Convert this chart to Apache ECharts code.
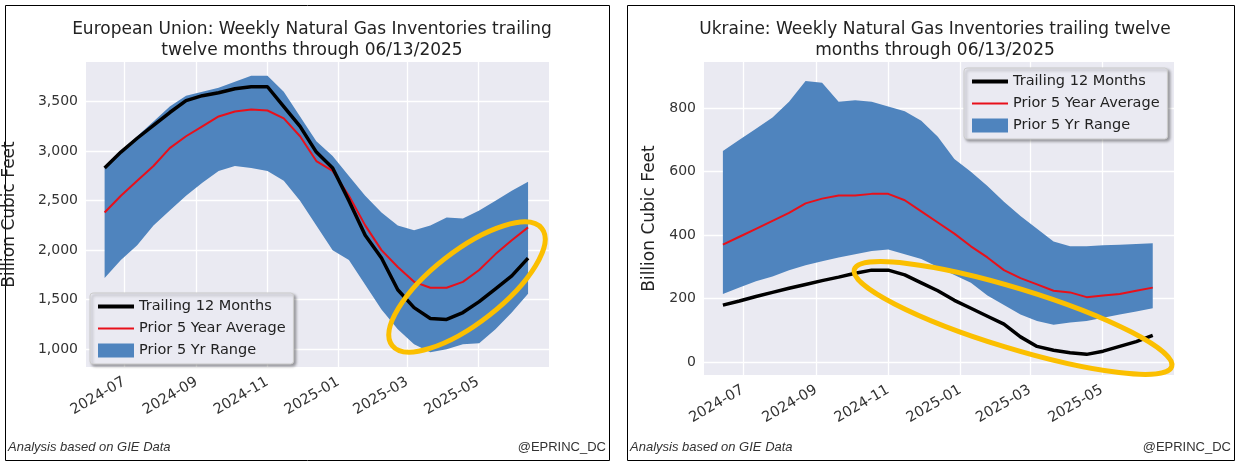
<!DOCTYPE html>
<html>
<head>
<meta charset="utf-8">
<script src="https://cdn.jsdelivr.net/npm/echarts@6/dist/echarts.min.js"></script>
<style>
  html, body { margin: 0; padding: 0; background: #fff; }
  #chart { width: 1240px; height: 467px; }
</style>
</head>
<body>
<div id="chart"></div>
<script>
// biweekly dates, 2024-06-14 .. 2025-06-13
const dates = [
  '2024-06-14', '2024-06-28', '2024-07-12', '2024-07-26', '2024-08-09', '2024-08-23',
  '2024-09-06', '2024-09-20', '2024-10-04', '2024-10-18', '2024-11-01', '2024-11-15',
  '2024-11-29', '2024-12-13', '2024-12-27', '2025-01-10', '2025-01-24', '2025-02-07',
  '2025-02-21', '2025-03-07', '2025-03-21', '2025-04-04', '2025-04-18', '2025-05-02',
  '2025-05-16', '2025-05-30', '2025-06-13'
]
const monthTicks = ['2024-07-01', '2024-09-01', '2024-11-01', '2025-01-01', '2025-03-01', '2025-05-01']

// European Union
const euTrailing = [2830, 2990, 3130, 3260, 3390, 3510, 3560, 3590, 3630, 3650, 3650, 3450, 3250, 2990, 2830, 2500, 2150, 1920, 1600, 1420, 1310, 1300, 1370, 1480, 1610, 1740, 1920]
const euAverage = [2380, 2550, 2700, 2850, 3030, 3150, 3250, 3350, 3400, 3420, 3410, 3330, 3150, 2900, 2800, 2550, 2250, 2000, 1830, 1680, 1620, 1620, 1680, 1800, 1960, 2100, 2230]
const euHigh = [2830, 3000, 3150, 3300, 3450, 3560, 3600, 3640, 3700, 3760, 3760, 3600, 3350, 3100, 2950, 2750, 2550, 2380, 2250, 2200, 2250, 2330, 2320, 2400, 2500, 2600, 2690]
const euLow = [1720, 1900, 2050, 2250, 2400, 2550, 2680, 2800, 2850, 2830, 2800, 2700, 2500, 2250, 2000, 1900, 1650, 1400, 1200, 1050, 970, 1000, 1050, 1060, 1200, 1370, 1560]
const euTicks = [1000, 1500, 2000, 2500, 3000, 3500]

// Ukraine
const uaTrailing = [180, 193, 207, 220, 233, 245, 257, 268, 280, 290, 290, 275, 250, 225, 195, 170, 145, 120, 80, 50, 38, 30, 25, 35, 50, 65, 85]
const uaAverage = [370, 395, 420, 445, 470, 500, 515, 525, 525, 530, 530, 510, 475, 440, 405, 365, 330, 290, 265, 245, 225, 220, 205, 210, 215, 225, 235]
const uaHigh = [665, 700, 735, 770, 820, 885, 880, 820, 825, 820, 805, 790, 760, 710, 640, 600, 555, 505, 460, 420, 380, 365, 365, 368, 370, 372, 375]
const uaLow = [215, 235, 255, 270, 290, 305, 318, 330, 340, 350, 355, 340, 325, 300, 275, 250, 210, 180, 150, 130, 118, 125, 130, 140, 150, 160, 170]
const uaTicks = [0, 200, 400, 600, 800]

const BAND = '#4f84be'
const ms = d => Date.parse(d + 'T00:00:00Z')
const pair = arr => arr.map((v, i) => [ms(dates[i]), v])
const tickMs = monthTicks.map(ms)

function xAxis(gridIndex) {
  return {
    type: 'value', gridIndex,
    min: ms('2024-05-29'), max: ms('2025-07-01'),
    axisLine: { show: false },
    axisTick: { show: false, customValues: tickMs },
    splitLine: { show: true, lineStyle: { color: '#fff', width: 1.3 } },
    axisLabel: {
      customValues: tickMs,
      rotate: 30, color: '#333', fontSize: 14.5, margin: 14,
      formatter: v => new Date(v).toISOString().slice(0, 7)
    }
  }
}
function yAxis(gridIndex, min, max, ticks) {
  return {
    type: 'value', gridIndex, min, max,
    name: 'Billion Cubic Feet', nameLocation: 'middle', nameGap: gridIndex ? 46 : 68,
    nameTextStyle: { fontSize: 17, color: '#222' },
    axisLine: { show: false },
    axisTick: { show: false, customValues: ticks },
    splitLine: { show: true, lineStyle: { color: '#fff', width: 1.3 } },
    axisLabel: { customValues: ticks, color: '#333', fontSize: 14, formatter: v => v.toLocaleString('en-US') }
  }
}
// range band drawn as a polygon through the axis scales
function bandSeries(idx, high, low) {
  const data = dates.map((d, i) => [ms(d), low[i], high[i]])
  return {
    type: 'custom', name: 'Prior 5 Yr Range', xAxisIndex: idx, yAxisIndex: idx, silent: true,
    itemStyle: { color: BAND }, encode: { x: 0, y: [1, 2] }, z: 1,
    renderItem: (params, api) => {
      if (params.dataIndex !== 0) return
      const top = data.map(r => api.coord([r[0], r[2]]))
      const bottom = data.map(r => api.coord([r[0], r[1]])).reverse()
      return { type: 'polygon', shape: { points: top.concat(bottom) }, style: { fill: BAND } }
    },
    data
  }
}
function seriesFor(idx, trailing, average, high, low) {
  const base = { xAxisIndex: idx, yAxisIndex: idx, type: 'line', symbol: 'none', silent: true, z: 3 }
  return [
    bandSeries(idx, high, low),
    { ...base, name: 'Prior 5 Year Average', data: pair(average), lineStyle: { color: '#e8101a', width: 2 }, itemStyle: { color: '#e8101a' } },
    { ...base, name: 'Trailing 12 Months', data: pair(trailing), lineStyle: { color: '#000', width: 3.5 }, itemStyle: { color: '#000' } }
  ]
}
function legend(left, top) {
  return {
    left, top, orient: 'vertical', itemGap: 7, itemWidth: 36, itemHeight: 14,
    padding: [6, 8, 6, 8],
    backgroundColor: '#eaeaf2', borderColor: '#ccc', borderWidth: 1, borderRadius: 3,
    shadowColor: 'rgba(0,0,0,0.35)', shadowBlur: 3, shadowOffsetX: 2, shadowOffsetY: 2,
    textStyle: { fontSize: 14.5, color: '#222' },
    data: [
      { name: 'Trailing 12 Months', icon: 'path://M0,5L34,5L34,9L0,9Z' },
      { name: 'Prior 5 Year Average', icon: 'path://M0,6L34,6L34,8L0,8Z' },
      { name: 'Prior 5 Yr Range', icon: 'rect', itemStyle: { color: BAND } }
    ]
  }
}

const chart = echarts.init(document.querySelector('#chart'))

const option = {
  animation: false,
  textStyle: { fontFamily: 'DejaVu Sans' },
  title: [
    { text: 'European Union: Weekly Natural Gas Inventories trailing\ntwelve months through 06/13/2025', left: 307, top: 14, textAlign: 'center',
      textStyle: { fontSize: 17, fontWeight: 'normal', color: '#222', lineHeight: 21 } },
    { text: 'Ukraine: Weekly Natural Gas Inventories trailing twelve\nmonths through 06/13/2025', left: 930, top: 14, textAlign: 'center',
      textStyle: { fontSize: 17, fontWeight: 'normal', color: '#222', lineHeight: 21 } }
  ],
  grid: [
    { left: 84, top: 62, width: 465, height: 305, show: true, backgroundColor: '#eaeaf2', borderWidth: 0 },
    { left: 704, top: 62, width: 470, height: 313, show: true, backgroundColor: '#eaeaf2', borderWidth: 0 }
  ],
  legend: [legend(90, 293), legend(964, 68)],
  xAxis: [xAxis(0), xAxis(1)],
  yAxis: [yAxis(0, 820, 3900, euTicks), yAxis(1, -40, 945, uaTicks)],
  series: [
    ...seriesFor(0, euTrailing, euAverage, euHigh, euLow),
    ...seriesFor(1, uaTrailing, uaAverage, uaHigh, uaLow)
  ],
  graphic: [
    { type: 'rect', shape: { x: 5.5, y: 5.5, width: 604, height: 455 }, style: { fill: 'none', stroke: '#000', lineWidth: 1 } },
    { type: 'rect', shape: { x: 627.5, y: 5.5, width: 607, height: 455 }, style: { fill: 'none', stroke: '#000', lineWidth: 1 } },
    { type: 'ellipse', x: 467, y: 287, rotation: 38 * Math.PI / 180, shape: { cx: 0, cy: 0, rx: 95, ry: 36 },
      style: { fill: 'none', stroke: '#fbbf00', lineWidth: 5 }, z: 100 },
    { type: 'ellipse', x: 1013, y: 318, rotation: -17 * Math.PI / 180, shape: { cx: 0, cy: 0, rx: 166, ry: 30 },
      style: { fill: 'none', stroke: '#fbbf00', lineWidth: 5 }, z: 100 },
    { type: 'text', left: 8, top: 441, style: { text: 'Analysis based on GIE Data', fontSize: 13, fontStyle: 'italic', fill: '#333' } },
    { type: 'text', right: 634, top: 441, style: { text: '@EPRINC_DC', fontSize: 13, fill: '#333' } },
    { type: 'text', left: 630, top: 441, style: { text: 'Analysis based on GIE Data', fontSize: 13, fontStyle: 'italic', fill: '#333' } },
    { type: 'text', right: 9, top: 441, style: { text: '@EPRINC_DC', fontSize: 13, fill: '#333' } }
  ]
}
chart.setOption(option)
</script>
</body>
</html>
